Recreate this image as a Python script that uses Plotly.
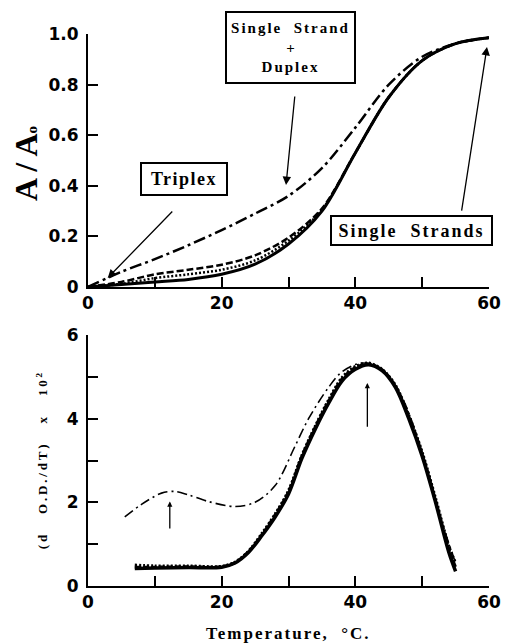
import plotly.graph_objects as go

# ---------------- data ----------------
# Top panel: relative absorbance A/Ao vs temperature
T_top = [0, 5, 10, 15, 20, 25, 30, 35, 40, 45, 50, 55, 60]
A_solid = [0, 0.01, 0.02, 0.03, 0.05, 0.09, 0.17, 0.30, 0.53, 0.75, 0.895, 0.962, 0.985]
A_dashed = [0, 0.02, 0.05, 0.068, 0.088, 0.125, 0.195, 0.31, 0.53, 0.75, 0.895, 0.962, 0.985]
A_dotted = [0, 0.012, 0.035, 0.05, 0.068, 0.105, 0.183, 0.305, 0.53, 0.75, 0.895, 0.962, 0.985]
A_dashdot = [0, 0.06, 0.11, 0.165, 0.225, 0.29, 0.36, 0.47, 0.63, 0.80, 0.91, 0.962, 0.985]

# Bottom panel: derivative curves (d O.D./dT) x 10^2
T_bot = [7, 10, 15, 20, 22, 24, 26, 28, 30, 32, 34, 36, 38, 40, 42, 44, 46, 48, 50, 52, 54, 55]
D_solid = [0.42, 0.43, 0.44, 0.45, 0.55, 0.8, 1.2, 1.65, 2.2, 3.05, 3.75, 4.37, 4.9, 5.18, 5.29, 5.15, 4.75, 4.0, 3.1, 2.0, 0.8, 0.35]
D_dashed = [0.45, 0.45, 0.46, 0.46, 0.56, 0.82, 1.22, 1.7, 2.25, 3.1, 3.8, 4.42, 4.95, 5.22, 5.31, 5.17, 4.78, 4.05, 3.15, 2.05, 0.88, 0.45]
D_dotted = [0.5, 0.48, 0.48, 0.47, 0.57, 0.83, 1.25, 1.72, 2.28, 3.12, 3.82, 4.45, 4.98, 5.25, 5.33, 5.18, 4.8, 4.08, 3.2, 2.1, 0.95, 0.55]
T_bot_dd = [5.5, 8, 11, 13, 15, 18, 22, 25, 28, 31, 33, 36, 38, 41, 44, 47, 50, 53, 55]
D_dashdot = [1.65, 1.95, 2.22, 2.26, 2.18, 2.02, 1.9, 2.0, 2.4, 3.35, 4.0, 4.75, 5.12, 5.33, 5.18, 4.5, 3.2, 1.5, 0.55]

top_x_ticks = [0, 10, 20, 30, 40, 50, 60]
top_x_text = ["0", "", "20", "", "40", "", "60"]
top_y_ticks = [0, 0.2, 0.4, 0.6, 0.8, 1.0]
top_y_text = ["0", "0.2", "0.4", "0.6", "0.8", "1.0"]
bot_y_ticks = [0, 1, 2, 3, 4, 5, 6]
bot_y_text = ["0", "", "2", "", "4", "", "6"]

# ---------------- figure ----------------
fig = go.Figure()

def add(x, y, dash, width, xa, ya):
    fig.add_trace(go.Scatter(x=x, y=y, mode="lines", xaxis=xa, yaxis=ya,
                             line=dict(color="black", width=width, dash=dash,
                                       shape="spline", smoothing=0.9),
                             showlegend=False, hoverinfo="skip"))

add(T_top, A_dashdot, "12px,4px,3px,4px", 2.5, "x", "y")
add(T_top, A_dashed, "7px,3px", 2.5, "x", "y")
add(T_top, A_dotted, "2px,2px", 2.5, "x", "y")
add(T_top, A_solid, "solid", 3, "x", "y")

add(T_bot_dd, D_dashdot, "10px,4px,2px,4px", 1.6, "x2", "y2")
add(T_bot, D_dashed, "6px,2px", 3, "x2", "y2")
add(T_bot, D_dotted, "2px,2px", 3, "x2", "y2")
add(T_bot, D_solid, "solid", 3.5, "x2", "y2")

tickfont = dict(family="DejaVu Sans", size=17, color="black", weight="bold")
axis_common = dict(showline=True, linecolor="black", linewidth=2, ticks="inside",
                   ticklen=10, tickwidth=2, tickcolor="black", showgrid=False,
                   zeroline=False, tickfont=tickfont, fixedrange=True)

fig.update_layout(
    width=505, height=636,
    margin=dict(l=80, r=18, t=22, b=40),
    paper_bgcolor="white", plot_bgcolor="white",
    xaxis=dict(domain=[0, 1], anchor="y", range=[0, 60], tickmode="array",
               tickvals=top_x_ticks, ticktext=top_x_text, **axis_common),
    yaxis=dict(domain=[0.5523, 0.993], anchor="x", range=[0, 1.0], tickmode="array",
               tickvals=top_y_ticks, ticktext=top_y_text, ticklabelstandoff=4, **axis_common),
    xaxis2=dict(domain=[0, 1], anchor="y2", range=[0, 60], tickmode="array",
                tickvals=top_x_ticks, ticktext=top_x_text, **axis_common),
    yaxis2=dict(domain=[0.0314, 0.4686], anchor="x2", range=[0, 6], tickmode="array",
                tickvals=bot_y_ticks, ticktext=bot_y_text, ticklabelstandoff=4, **axis_common),
)

serif = "Liberation Serif"

def ls(text, px):
    return f"<span style='letter-spacing:{px}px'>{text}</span>"

annotations = [
    # axis titles
    dict(text="<b>A / A<span style='font-size:15px'>o</span></b>", xref="paper", yref="paper",
         x=-0.155, y=0.768, textangle=-90, showarrow=False,
         font=dict(family=serif, size=32, color="black"), xanchor="center", yanchor="middle"),
    dict(text="<b>" + ls("(d   O.D./dT)   x   10<sup>2</sup>", 2.8) + "</b>", xref="paper", yref="paper",
         x=-0.115, y=0.252, textangle=-90, showarrow=False,
         font=dict(family=serif, size=13, color="black"), xanchor="center", yanchor="middle"),
    dict(text="<b>" + ls("Temperature,  °C.", 2) + "</b>", xref="paper", yref="paper",
         x=0.5, y=-0.052, showarrow=False,
         font=dict(family=serif, size=17, color="black"), xanchor="center", yanchor="middle"),
    # boxed labels
    dict(text="<b>" + ls("Triplex", 1.5) + "</b>", xref="x", yref="y", x=14.3, y=0.427,
         showarrow=False, font=dict(family=serif, size=18, color="black"),
         bordercolor="black", borderwidth=2, borderpad=2, bgcolor="white",
         width=80, height=26),
    dict(text="<b>" + ls("Single  Strand", 2) + "<br>+<br>" + ls("Duplex", 2) + "</b>",
         xref="x", yref="y", x=30.3, y=0.947, showarrow=False,
         font=dict(family=serif, size=15, color="black"),
         bordercolor="black", borderwidth=2, borderpad=2, bgcolor="white",
         width=123, height=65),
    dict(text="<b>" + ls("Single  Strands", 2) + "</b>", xref="x", yref="y", x=48.43, y=0.223,
         showarrow=False, font=dict(family=serif, size=18, color="black"),
         bordercolor="black", borderwidth=2, borderpad=2, bgcolor="white",
         width=155, height=23),
    # arrows (top)
    dict(text="", xref="x", yref="y", axref="x", ayref="y", x=2.95, y=0.036, ax=12.83, ay=0.304,
         showarrow=True, arrowhead=2, arrowsize=1.3, arrowwidth=1.3, arrowcolor="black"),
    dict(text="", xref="x", yref="y", axref="x", ayref="y", x=29.63, y=0.403, ax=30.96, ay=0.759,
         showarrow=True, arrowhead=2, arrowsize=1.3, arrowwidth=1.3, arrowcolor="black"),
    dict(text="", xref="x", yref="y", axref="x", ayref="y", x=59.7, y=0.949, ax=55.87, ay=0.296,
         showarrow=True, arrowhead=2, arrowsize=1.3, arrowwidth=1.3, arrowcolor="black"),
    # arrows (bottom)
    dict(text="", xref="x2", yref="y2", axref="x2", ayref="y2", x=12.24, y=2.02, ax=12.24, ay=1.34,
         showarrow=True, arrowhead=2, arrowsize=0.8, arrowwidth=1.3, arrowcolor="black"),
    dict(text="", xref="x2", yref="y2", axref="x2", ayref="y2", x=41.8, y=4.85, ax=41.8, ay=3.77,
         showarrow=True, arrowhead=2, arrowsize=0.8, arrowwidth=1.3, arrowcolor="black"),
]
fig.update_layout(annotations=annotations)

fig.write_html("out.html")
